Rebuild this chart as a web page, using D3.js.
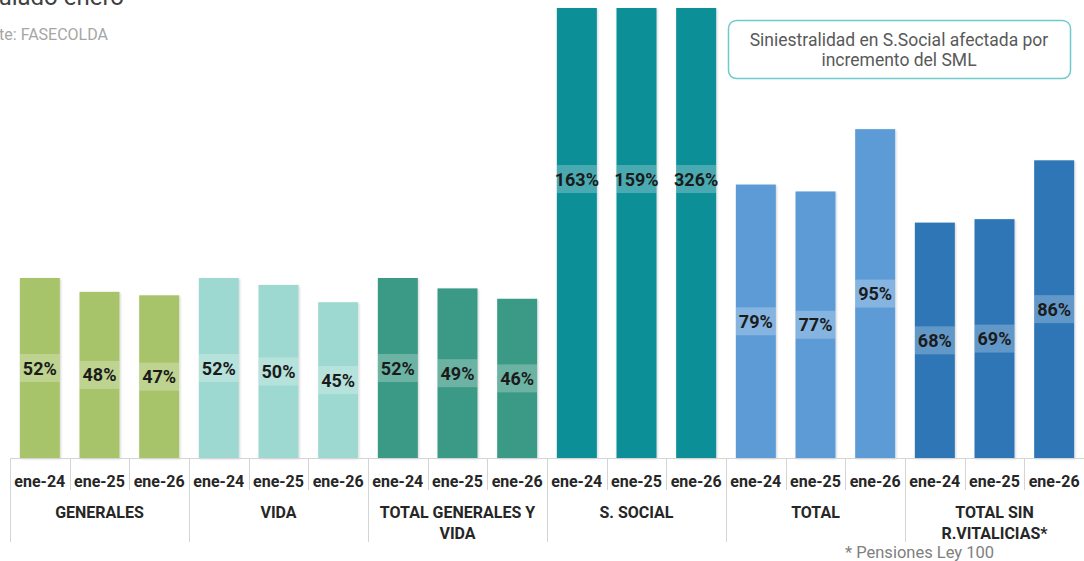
<!DOCTYPE html>
<html><head><meta charset="utf-8">
<script src="https://cdn.jsdelivr.net/npm/d3@7/dist/d3.min.js"></script>
<style>
html,body{margin:0;padding:0;background:#fff;}
svg{display:block;font-family:Roboto, "Noto Sans", sans-serif;}
</style></head>
<body>
<svg id="c" width="1084" height="561"></svg>
<script>
// ---- data ----
const groups = ["GENERALES", "VIDA", "TOTAL GENERALES Y VIDA", "S. SOCIAL", "TOTAL", "TOTAL SIN R.VITALICIAS*"];
const groupLines = [["GENERALES"], ["VIDA"], ["TOTAL GENERALES Y", "VIDA"], ["S. SOCIAL"], ["TOTAL"], ["TOTAL SIN", "R.VITALICIAS*"]];
const periods = ["ene-24", "ene-25", "ene-26"];
const generales = [52, 48, 47];
const vida = [52, 50, 45];
const totalGenVida = [52, 49, 46];
const sSocial = [163, 159, 326];
const total = [79, 77, 95];
const totalSinRV = [68, 69, 86];
const seriesValues = [generales, vida, totalGenVida, sSocial, total, totalSinRV];
const groupColors = ["#a8c46a", "#9ed9d1", "#3a9a86", "#078f97", "#5b9bd6", "#2e76b6"];
const yMax = 130;

const title = "Siniestralidad acumulado enero";
const source = "Fuente: FASECOLDA";
const note = ["Siniestralidad en S.Social afectada por", "incremento del SML"];
const footnote = "* Pensiones Ley 100";

// ---- build ----
const rows = [];
groups.forEach((g, gi) => periods.forEach((p, pi) => rows.push({g, gi, p, pi, v: seriesValues[gi][pi], key: gi + "|" + pi})));

const svg = d3.select("#c");
const plotLeft = 10, plotRight = 1084, base = 458, plotTop = 8;

const x = d3.scaleBand().domain(rows.map(d => d.key)).range([plotLeft, plotRight]).paddingInner(0.33).paddingOuter(0.165);
const y = d3.scaleLinear().domain([0, yMax]).range([base, plotTop]).clamp(true);
const step = x.step();

const defs = svg.append("defs");
const f = defs.append("filter").attr("id", "sh").attr("x", "-20%").attr("y", "-5%").attr("width", "140%").attr("height", "110%");
f.append("feDropShadow").attr("dx", 1).attr("dy", 1).attr("stdDeviation", 1.2).attr("flood-color", "#000").attr("flood-opacity", 0.18);

// title & source (cropped at the left/top edge, as in the reference)
svg.append("text").attr("x", 124).attr("y", 5).attr("text-anchor", "end").attr("font-size", 24).attr("fill", "#404040").text(title);
svg.append("text").attr("x", 108).attr("y", 40).attr("text-anchor", "end").attr("font-size", 16).attr("fill", "#a6a6a6").text(source);

// bars
const bars = svg.append("g");
bars.selectAll("rect").data(rows).join("rect")
  .attr("x", d => x(d.key)).attr("width", x.bandwidth())
  .attr("y", d => y(d.v)).attr("height", d => base - y(d.v))
  .attr("fill", d => groupColors[d.gi]).attr("filter", "url(#sh)");

// labels
const lab = svg.append("g");
const labY = d => d.v > yMax ? y(yMax * 0.62) : (y(d.v) + base) / 2;
lab.selectAll("rect").data(rows).join("rect")
  .attr("x", d => x(d.key)).attr("width", x.bandwidth())
  .attr("y", d => labY(d) - 14).attr("height", 28)
  .attr("fill", "#fff").attr("fill-opacity", 0.25);
lab.selectAll("text").data(rows).join("text")
  .attr("x", d => x(d.key) + x.bandwidth() / 2).attr("y", d => labY(d) + 6.5)
  .attr("text-anchor", "middle").attr("font-size", 18).attr("font-weight", 700).attr("fill", "#1b1b1b")
  .text(d => d.v + "%");

// axis
const ax = svg.append("g").attr("stroke", "#d4d4d4").attr("stroke-width", 1);
ax.append("line").attr("x1", plotLeft).attr("x2", plotRight).attr("y1", base + 0.5).attr("y2", base + 0.5);
rows.forEach(d => {
  const xl = Math.round(x(d.key) - step * 0.165) + 0.5;
  ax.append("line").attr("x1", xl).attr("x2", xl).attr("y1", base).attr("y2", d.pi === 0 ? 542 : 490);
});
svg.append("g").selectAll("text").data(rows).join("text")
  .attr("x", d => x(d.key) + x.bandwidth() / 2).attr("y", 487)
  .attr("text-anchor", "middle").attr("font-size", 16).attr("font-weight", 700).attr("fill", "#262626")
  .text(d => d.p);

// group labels
groups.forEach((g, gi) => {
  const cx = x(gi + "|1") + x.bandwidth() / 2;
  groupLines[gi].forEach((ln, li) => {
    svg.append("text").attr("x", cx).attr("y", 518 + li * 21)
      .attr("text-anchor", "middle").attr("font-size", 16).attr("font-weight", 700).attr("fill", "#262626").text(ln);
  });
});

// note box
svg.append("rect").attr("x", 728.5).attr("y", 20.5).attr("width", 342).attr("height", 58).attr("rx", 8)
  .attr("fill", "#fff").attr("stroke", "#6fcaca").attr("stroke-width", 1.5);
note.forEach((ln, i) => svg.append("text").attr("x", 899).attr("y", 46 + i * 20).attr("text-anchor", "middle")
  .attr("font-size", 17.5).attr("fill", "#595959").text(ln));

// footnote
svg.append("text").attr("x", 845).attr("y", 558).attr("font-size", 16.5).attr("fill", "#808080").text(footnote);
</script>
</body></html>
